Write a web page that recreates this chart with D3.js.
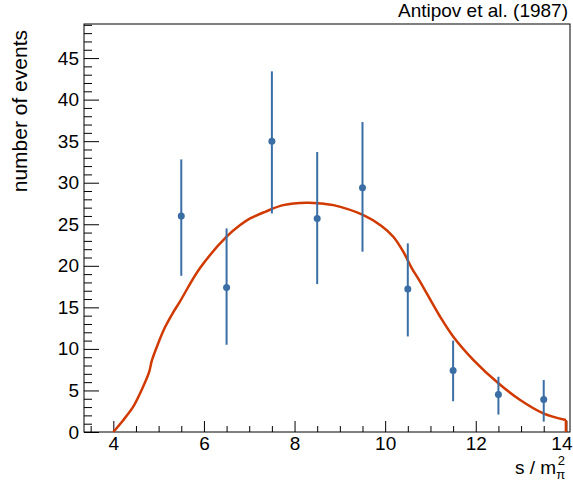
<!DOCTYPE html>
<html>
<head>
<meta charset="utf-8">
<script src="https://cdn.jsdelivr.net/npm/d3@7"></script>
<style>
  body { margin: 0; background: #fff; }
  svg { display: block; font-family: "Liberation Sans", Arial, Helvetica, sans-serif; }
</style>
</head>
<body>
<svg width="573" height="489"></svg>
<script>
// measured points (Antipov et al. 1987)
const binX = [5.5, 6.5, 7.5, 8.5, 9.5, 10.5, 11.5, 12.5, 13.5];
const counts = [26.0, 17.4, 35.0, 25.7, 29.4, 17.2, 7.4, 4.5, 3.9];
const errLow = [18.8, 10.5, 26.3, 17.8, 21.7, 11.5, 3.7, 2.1, 1.25];
const errHigh = [32.8, 24.5, 43.4, 33.7, 37.3, 22.7, 11.0, 6.65, 6.25];

// model curve
const curveX = [4.0, 4.2, 4.44, 4.62, 4.79, 4.85, 5.0, 5.14, 5.3, 5.47, 5.91, 6.5, 6.8, 7.02, 7.35, 7.75, 8.27, 8.6, 8.86, 9.52, 9.92, 10.18, 10.4, 10.59, 10.77, 11.21, 11.5, 11.95, 12.5, 12.98, 13.49, 13.99];
const curveY = [0.0, 1.3, 3.05, 5.0, 7.2, 8.6, 10.8, 12.6, 14.2, 15.7, 19.7, 23.5, 24.9, 25.7, 26.5, 27.3, 27.6, 27.5, 27.3, 26.1, 24.8, 23.5, 21.7, 19.7, 18.1, 13.9, 11.5, 8.66, 5.86, 3.85, 2.25, 1.44];

const xMajor = [4, 6, 8, 10, 12, 14];
const yMajor = [0, 5, 10, 15, 20, 25, 30, 35, 40, 45];

const frameL = 84, frameR = 570, frameT = 24, frameB = 432;

const svg = d3.select("svg");

const x = d3.scaleLinear().domain([3.353, 14.08]).range([frameL, frameR]);
const y = d3.scaleLinear().domain([0, 49.1]).range([frameB, frameT]);

// minor ticks
const xMinor = d3.range(3.5, 14.01, 0.5).filter(v => xMajor.indexOf(v) < 0);
const yMinor = d3.range(0, 50, 1).filter(v => v % 5 !== 0);

// x axis
svg.append("g")
    .attr("transform", "translate(0," + frameB + ")")
    .call(d3.axisBottom(x).tickValues(xMinor).tickSize(-6).tickFormat(""))
    .call(g => g.select(".domain").remove());
const xAx = svg.append("g")
    .attr("transform", "translate(0," + frameB + ")")
    .call(d3.axisBottom(x).tickValues(xMajor).tickSize(-11).tickPadding(4.5).tickFormat(d3.format("d")));
xAx.select(".domain").remove();
xAx.selectAll("text").attr("font-size", 19).attr("fill", "#000").attr("font-family", null);
// last label sits at the page edge, keep it inside
xAx.selectAll("text").filter(d => d === 14)
    .attr("text-anchor", "end")
    .attr("x", 572 - x(14));

// y axis
svg.append("g")
    .attr("transform", "translate(" + frameL + ",0)")
    .call(d3.axisLeft(y).tickValues(yMinor).tickSize(-8).tickFormat(""))
    .call(g => g.select(".domain").remove());
const yAx = svg.append("g")
    .attr("transform", "translate(" + frameL + ",0)")
    .call(d3.axisLeft(y).tickValues(yMajor).tickSize(-15).tickPadding(5).tickFormat(d3.format("d")));
yAx.select(".domain").remove();
yAx.selectAll("text").attr("font-size", 19).attr("fill", "#000").attr("font-family", null);

// frame
svg.append("rect")
    .attr("x", frameL).attr("y", frameT)
    .attr("width", frameR - frameL).attr("height", frameB - frameT)
    .attr("fill", "none").attr("stroke", "#000").attr("stroke-width", 1);

// model curve
const pts = curveX.map((v, i) => [v, curveY[i]]);
svg.append("path")
    .datum(pts)
    .attr("fill", "none")
    .attr("stroke", "#d03a00")
    .attr("stroke-width", 2.5)
    .attr("d", d3.line().x(d => x(d[0])).y(d => y(d[1])).curve(d3.curveCatmullRom.alpha(0.5)));
// drop at the end of the range
const last = pts[pts.length - 1];
svg.append("path")
    .datum([last, [last[0], 0]])
    .attr("fill", "none")
    .attr("stroke", "#d03a00")
    .attr("stroke-width", 2.5)
    .attr("d", d3.line().x(d => x(d[0])).y(d => y(d[1])));

// error bars + points
const blue = "#3a6ea5";
svg.selectAll(".err")
    .data(binX)
    .enter().append("line")
      .attr("class", "err")
      .attr("x1", d => x(d)).attr("x2", d => x(d))
      .attr("y1", (d, i) => y(errLow[i]))
      .attr("y2", (d, i) => y(errHigh[i]))
      .attr("stroke", blue)
      .attr("stroke-width", 2);

svg.selectAll(".pt")
    .data(binX)
    .enter().append("circle")
      .attr("class", "pt")
      .attr("cx", d => x(d))
      .attr("cy", (d, i) => y(counts[i]))
      .attr("r", 3.5)
      .attr("fill", blue);

// title top right
svg.append("text")
    .attr("x", 568)
    .attr("y", 17)
    .attr("text-anchor", "end")
    .attr("font-size", 19)
    .text("Antipov et al. (1987)");

// y axis title
svg.append("text")
    .attr("transform", "translate(27,30) rotate(-90)")
    .attr("text-anchor", "end")
    .attr("font-size", 21)
    .text("number of events");

// x axis title
const xt = svg.append("text")
    .attr("x", 515)
    .attr("y", 474)
    .attr("font-size", 19);
xt.append("tspan").text("s / m");
xt.append("tspan").attr("font-size", 13).attr("dy", 5).text("\u03c0");
xt.append("tspan").attr("font-size", 13).attr("dy", -14).attr("dx", -7.5).text("2");
</script>
</body>
</html>
